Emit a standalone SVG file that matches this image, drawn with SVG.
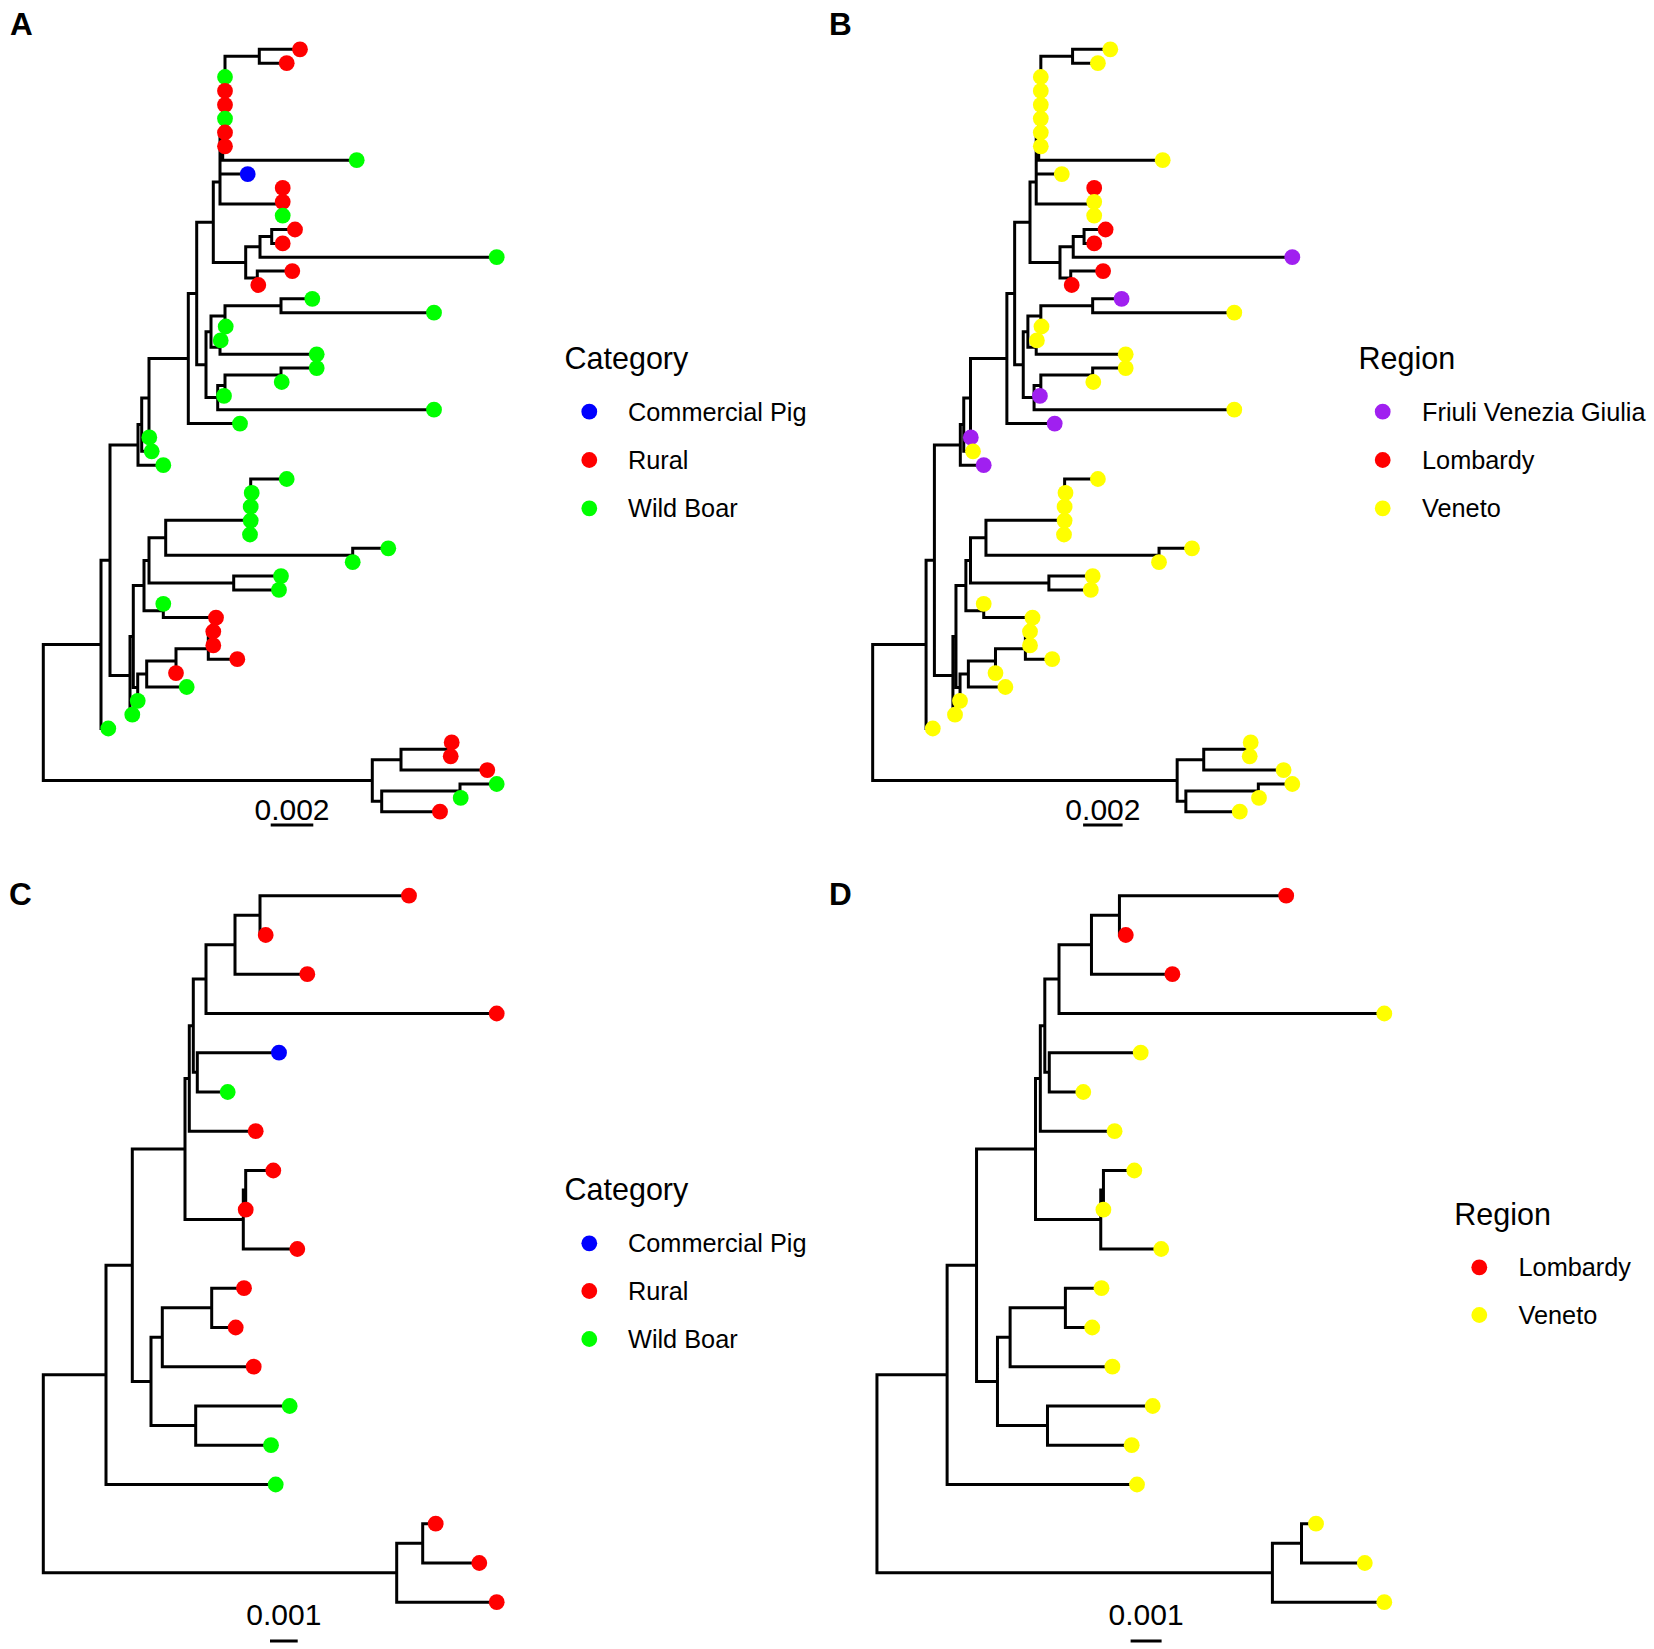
<svg xmlns="http://www.w3.org/2000/svg" xmlns:xlink="http://www.w3.org/1999/xlink" width="1654" height="1649" viewBox="0 0 1654 1649">
<style>
.e{fill:none;stroke:#000;stroke-width:3;stroke-linecap:square;vector-effect:non-scaling-stroke}
.bar{fill:none;stroke:#000;stroke-width:3}
.r{fill:#FF0000}.g{fill:#00FF00}.b{fill:#0000FF}.y{fill:#FFFF00}.p{fill:#A020F0}
text{font-family:"Liberation Sans",Arial,Helvetica,sans-serif;fill:#000}
.pl{font-size:31.5px;font-weight:bold}
.lt{font-size:30.5px}
.ll{font-size:25.3px}
.sc{font-size:30px;text-anchor:middle}
</style>
<defs>
<path id="edgesA" class="e" d="M259.3,49.3V63.2M259.3,49.3H300M259.3,63.2H286.7
M225,56.2V146.3M225,56.2H259.3
M222.7,103.8V160.2M222.7,103.8H225M222.7,160.2H356.7
M220,132V204M220,132H222.7M220,174.1H247.7M220,204H282.7
M282.7,187.9V215.6
M213.3,182V262.4M213.3,182H220M213.3,262.4H245.7
M245.7,246.8V278M245.7,246.8H260M245.7,278H257.3
M260,236.4V257.2M260,236.4H271.7M260,257.2H496.7
M271.7,229.5V243.4M271.7,229.5H295M271.7,243.4H282.7
M257.3,271.1V285M257.3,271.1H292.3M257.3,285H258.3
M196.7,222.2V364.7M196.7,222.2H213.3M196.7,364.7H206
M206,331.7V397.6M206,331.7H211M206,397.6H217.7
M211,316.1V347.3M211,316.1H225M211,347.3H220
M225,305.7V326.5M225,305.7H281M225,326.5H225.7
M281,298.8V312.7M281,298.8H312.3M281,312.7H434
M220,340.4V354.3M220,340.4H220.7M220,354.3H316.7
M217.7,385.5V409.7M217.7,385.5H225M217.7,409.7H434
M225,375V395.9M225,375H281
M281,368.1V382M281,368.1H316.7M281,382H281.7
M188.3,293.5V423.6M188.3,293.5H196.7M188.3,423.6H240
M149,358.5V437.4M149,358.5H188.3M149,437.4H149.3
M141.7,398V451.3M141.7,398H149M141.7,451.3H151.7
M138,424.6V465.2M138,424.6H141.7M138,465.2H163.3
M110,444.9V675.6M110,444.9H138M110,675.6H130
M250.7,479V534.5M250.7,479H286.7
M352.7,548.3V562.2M352.7,548.3H388.3
M165.7,520.3V555.3M165.7,520.3H250.7M165.7,555.3H352.7
M233.7,576.1V589.9M233.7,576.1H281M233.7,589.9H279
M149,537.8V583M149,537.8H165.7M149,583H233.7
M163.3,603.8V617.6M163.3,617.6H216
M144,560.4V610.7M144,560.4H149M144,610.7H163.3
M208.3,631.5V659.2M208.3,631.5H213.3M208.3,645.4H213.3M208.3,659.2H237.3
M176,648.7V673.1M176,648.7H208.3
M146.7,661V687M146.7,661H176M146.7,687H186.7
M137.7,674V700.8M137.7,674H146.7
M133.3,585.6V687.4M133.3,585.6H144M133.3,687.4H137.7
M130,636.5V714.7M130,636.5H133.3M130,714.7H132.3
M101,560.3V728.5M101,560.3H110M101,728.5H108.3
M448,742.4V756.3M448,742.4H451.7M448,756.3H450.7
M401,749.3V770.1M401,749.3H448M401,770.1H487.3
M460,784V797.9M460,784H496.7M460,797.9H460.7
M381.7,791V811.7M381.7,791H460M381.7,811.7H440
M372.3,759.7V801.3M372.3,759.7H401M372.3,801.3H381.7
M43.3,644.4V780.5M43.3,644.4H101M43.3,780.5H372.3"/>
<path id="edgesC" class="e" d="M260,895.7V935M260,895.7H409M260,935H265.7
M235,915.3V974.2M235,915.3H260M235,974.2H307.3
M206,944.8V1013.5M206,944.8H235M206,1013.5H496.7
M197.3,1052.7V1092M197.3,1052.7H279M197.3,1092H227.7
M193.3,979.1V1072.3M193.3,979.1H206M193.3,1072.3H197.3
M189.3,1025.7V1131.2M189.3,1025.7H193.3M189.3,1131.2H255.7
M245.7,1170.5V1209.7M245.7,1170.5H273.3
M243.3,1190.1V1249M243.3,1190.1H245.7M243.3,1249H297.3
M185,1078.5V1219.5M185,1078.5H189.3M185,1219.5H243.3
M211.7,1288.2V1327.5M211.7,1288.2H244M211.7,1327.5H235.7
M162.3,1307.8V1366.7M162.3,1307.8H211.7M162.3,1366.7H253.7
M195.7,1406V1445.2M195.7,1406H289.7M195.7,1445.2H271
M151,1337.3V1425.6M151,1337.3H162.3M151,1425.6H195.7
M132.3,1149V1381.4M132.3,1149H185M132.3,1381.4H151
M106,1265.2V1484.5M106,1265.2H132.3M106,1484.5H275.7
M422.7,1523.7V1563M422.7,1523.7H435.7M422.7,1563H479.3
M396.7,1543.3V1602.2M396.7,1543.3H422.7M396.7,1602.2H496.7
M43.3,1374.8V1572.8M43.3,1374.8H106M43.3,1572.8H396.7"/>
</defs>
<rect width="1654" height="1649" fill="#fff"/>
<g id="connectors">
<use id="edges-A" href="#edgesA" xlink:href="#edgesA"/>
<use id="edges-B" href="#edgesA" xlink:href="#edgesA" transform="translate(832.6 0) scale(0.9255 1)"/>
<use id="edges-C" href="#edgesC" xlink:href="#edgesC"/>
<use id="edges-D" href="#edgesC" xlink:href="#edgesC" transform="translate(828.5 0) scale(1.119 1)"/>
<path id="scale-A" class="bar" d="M270.7,825H313.3"/>
<path id="scale-B" class="bar" d="M1083.1,825H1122.6"/>
<path id="scale-C" class="bar" d="M270,1641H297.7"/>
<path id="scale-D" class="bar" d="M1130.6,1641H1161.6"/>
</g>
<g id="panel-labels">
<text class="pl" x="10" y="35">A</text>
<text class="pl" x="829" y="35">B</text>
<text class="pl" x="9" y="905">C</text>
<text class="pl" x="829" y="905">D</text>
</g>
<g id="scale-texts">
<text class="sc" x="292" y="819.5">0.002</text>
<text class="sc" x="1102.9" y="819.5">0.002</text>
<text class="sc" x="283.8" y="1625">0.001</text>
<text class="sc" x="1146.1" y="1625">0.001</text>
</g>
<g id="tips-A">
<g id="A-t00"><circle class="r" cx="300" cy="49.3" r="7.9"/></g>
<g id="A-t01"><circle class="r" cx="286.7" cy="63.2" r="7.9"/></g>
<g id="A-t02"><circle class="g" cx="225" cy="77" r="7.9"/></g>
<g id="A-t03"><circle class="r" cx="225" cy="90.9" r="7.9"/></g>
<g id="A-t04"><circle class="r" cx="225" cy="104.8" r="7.9"/></g>
<g id="A-t05"><circle class="g" cx="225" cy="118.6" r="7.9"/></g>
<g id="A-t06"><circle class="r" cx="225" cy="132.5" r="7.9"/></g>
<g id="A-t07"><circle class="r" cx="225" cy="146.3" r="7.9"/></g>
<g id="A-t08"><circle class="g" cx="356.7" cy="160.2" r="7.9"/></g>
<g id="A-t09"><circle class="b" cx="247.7" cy="174.1" r="7.9"/></g>
<g id="A-t10"><circle class="r" cx="282.7" cy="187.9" r="7.9"/></g>
<g id="A-t11"><circle class="r" cx="282.7" cy="201.8" r="7.9"/></g>
<g id="A-t12"><circle class="g" cx="282.7" cy="215.6" r="7.9"/></g>
<g id="A-t13"><circle class="r" cx="295" cy="229.5" r="7.9"/></g>
<g id="A-t14"><circle class="r" cx="282.7" cy="243.4" r="7.9"/></g>
<g id="A-t15"><circle class="g" cx="496.7" cy="257.2" r="7.9"/></g>
<g id="A-t16"><circle class="r" cx="292.3" cy="271.1" r="7.9"/></g>
<g id="A-t17"><circle class="r" cx="258.3" cy="285" r="7.9"/></g>
<g id="A-t18"><circle class="g" cx="312.3" cy="298.8" r="7.9"/></g>
<g id="A-t19"><circle class="g" cx="434" cy="312.7" r="7.9"/></g>
<g id="A-t20"><circle class="g" cx="225.7" cy="326.5" r="7.9"/></g>
<g id="A-t21"><circle class="g" cx="220.7" cy="340.4" r="7.9"/></g>
<g id="A-t22"><circle class="g" cx="316.7" cy="354.3" r="7.9"/></g>
<g id="A-t23"><circle class="g" cx="316.7" cy="368.1" r="7.9"/></g>
<g id="A-t24"><circle class="g" cx="281.7" cy="382" r="7.9"/></g>
<g id="A-t25"><circle class="g" cx="224" cy="395.9" r="7.9"/></g>
<g id="A-t26"><circle class="g" cx="434" cy="409.7" r="7.9"/></g>
<g id="A-t27"><circle class="g" cx="240" cy="423.6" r="7.9"/></g>
<g id="A-t28"><circle class="g" cx="149.3" cy="437.4" r="7.9"/></g>
<g id="A-t29"><circle class="g" cx="151.7" cy="451.3" r="7.9"/></g>
<g id="A-t30"><circle class="g" cx="163.3" cy="465.2" r="7.9"/></g>
<g id="A-t31"><circle class="g" cx="286.7" cy="479" r="7.9"/></g>
<g id="A-t32"><circle class="g" cx="251.7" cy="492.9" r="7.9"/></g>
<g id="A-t33"><circle class="g" cx="250.7" cy="506.7" r="7.9"/></g>
<g id="A-t34"><circle class="g" cx="250.7" cy="520.6" r="7.9"/></g>
<g id="A-t35"><circle class="g" cx="250" cy="534.5" r="7.9"/></g>
<g id="A-t36"><circle class="g" cx="388.3" cy="548.3" r="7.9"/></g>
<g id="A-t37"><circle class="g" cx="352.7" cy="562.2" r="7.9"/></g>
<g id="A-t38"><circle class="g" cx="281" cy="576.1" r="7.9"/></g>
<g id="A-t39"><circle class="g" cx="279" cy="589.9" r="7.9"/></g>
<g id="A-t40"><circle class="g" cx="163.3" cy="603.8" r="7.9"/></g>
<g id="A-t41"><circle class="r" cx="216" cy="617.6" r="7.9"/></g>
<g id="A-t42"><circle class="r" cx="213.3" cy="631.5" r="7.9"/></g>
<g id="A-t43"><circle class="r" cx="213.3" cy="645.4" r="7.9"/></g>
<g id="A-t44"><circle class="r" cx="237.3" cy="659.2" r="7.9"/></g>
<g id="A-t45"><circle class="r" cx="176" cy="673.1" r="7.9"/></g>
<g id="A-t46"><circle class="g" cx="186.7" cy="687" r="7.9"/></g>
<g id="A-t47"><circle class="g" cx="137.7" cy="700.8" r="7.9"/></g>
<g id="A-t48"><circle class="g" cx="132.3" cy="714.7" r="7.9"/></g>
<g id="A-t49"><circle class="g" cx="108.3" cy="728.5" r="7.9"/></g>
<g id="A-t50"><circle class="r" cx="451.7" cy="742.4" r="7.9"/></g>
<g id="A-t51"><circle class="r" cx="450.7" cy="756.3" r="7.9"/></g>
<g id="A-t52"><circle class="r" cx="487.3" cy="770.1" r="7.9"/></g>
<g id="A-t53"><circle class="g" cx="496.7" cy="784" r="7.9"/></g>
<g id="A-t54"><circle class="g" cx="460.7" cy="797.9" r="7.9"/></g>
<g id="A-t55"><circle class="r" cx="440" cy="811.7" r="7.9"/></g>
</g>
<g id="tips-B">
<g id="B-t00"><circle class="y" cx="1110.3" cy="49.3" r="7.9"/></g>
<g id="B-t01"><circle class="y" cx="1097.9" cy="63.2" r="7.9"/></g>
<g id="B-t02"><circle class="y" cx="1040.8" cy="77" r="7.9"/></g>
<g id="B-t03"><circle class="y" cx="1040.8" cy="90.9" r="7.9"/></g>
<g id="B-t04"><circle class="y" cx="1040.8" cy="104.8" r="7.9"/></g>
<g id="B-t05"><circle class="y" cx="1040.8" cy="118.6" r="7.9"/></g>
<g id="B-t06"><circle class="y" cx="1040.8" cy="132.5" r="7.9"/></g>
<g id="B-t07"><circle class="y" cx="1040.8" cy="146.3" r="7.9"/></g>
<g id="B-t08"><circle class="y" cx="1162.7" cy="160.2" r="7.9"/></g>
<g id="B-t09"><circle class="y" cx="1061.8" cy="174.1" r="7.9"/></g>
<g id="B-t10"><circle class="r" cx="1094.2" cy="187.9" r="7.9"/></g>
<g id="B-t11"><circle class="y" cx="1094.2" cy="201.8" r="7.9"/></g>
<g id="B-t12"><circle class="y" cx="1094.2" cy="215.6" r="7.9"/></g>
<g id="B-t13"><circle class="r" cx="1105.6" cy="229.5" r="7.9"/></g>
<g id="B-t14"><circle class="r" cx="1094.2" cy="243.4" r="7.9"/></g>
<g id="B-t15"><circle class="p" cx="1292.3" cy="257.2" r="7.9"/></g>
<g id="B-t16"><circle class="r" cx="1103.1" cy="271.1" r="7.9"/></g>
<g id="B-t17"><circle class="r" cx="1071.7" cy="285" r="7.9"/></g>
<g id="B-t18"><circle class="p" cx="1121.6" cy="298.8" r="7.9"/></g>
<g id="B-t19"><circle class="y" cx="1234.3" cy="312.7" r="7.9"/></g>
<g id="B-t20"><circle class="y" cx="1041.5" cy="326.5" r="7.9"/></g>
<g id="B-t21"><circle class="y" cx="1036.9" cy="340.4" r="7.9"/></g>
<g id="B-t22"><circle class="y" cx="1125.7" cy="354.3" r="7.9"/></g>
<g id="B-t23"><circle class="y" cx="1125.7" cy="368.1" r="7.9"/></g>
<g id="B-t24"><circle class="y" cx="1093.3" cy="382" r="7.9"/></g>
<g id="B-t25"><circle class="p" cx="1039.9" cy="395.9" r="7.9"/></g>
<g id="B-t26"><circle class="y" cx="1234.3" cy="409.7" r="7.9"/></g>
<g id="B-t27"><circle class="p" cx="1054.7" cy="423.6" r="7.9"/></g>
<g id="B-t28"><circle class="p" cx="970.8" cy="437.4" r="7.9"/></g>
<g id="B-t29"><circle class="y" cx="973" cy="451.3" r="7.9"/></g>
<g id="B-t30"><circle class="p" cx="983.7" cy="465.2" r="7.9"/></g>
<g id="B-t31"><circle class="y" cx="1097.9" cy="479" r="7.9"/></g>
<g id="B-t32"><circle class="y" cx="1065.5" cy="492.9" r="7.9"/></g>
<g id="B-t33"><circle class="y" cx="1064.6" cy="506.7" r="7.9"/></g>
<g id="B-t34"><circle class="y" cx="1064.6" cy="520.6" r="7.9"/></g>
<g id="B-t35"><circle class="y" cx="1064" cy="534.5" r="7.9"/></g>
<g id="B-t36"><circle class="y" cx="1192" cy="548.3" r="7.9"/></g>
<g id="B-t37"><circle class="y" cx="1159" cy="562.2" r="7.9"/></g>
<g id="B-t38"><circle class="y" cx="1092.7" cy="576.1" r="7.9"/></g>
<g id="B-t39"><circle class="y" cx="1090.8" cy="589.9" r="7.9"/></g>
<g id="B-t40"><circle class="y" cx="983.7" cy="603.8" r="7.9"/></g>
<g id="B-t41"><circle class="y" cx="1032.5" cy="617.6" r="7.9"/></g>
<g id="B-t42"><circle class="y" cx="1030" cy="631.5" r="7.9"/></g>
<g id="B-t43"><circle class="y" cx="1030" cy="645.4" r="7.9"/></g>
<g id="B-t44"><circle class="y" cx="1052.2" cy="659.2" r="7.9"/></g>
<g id="B-t45"><circle class="y" cx="995.5" cy="673.1" r="7.9"/></g>
<g id="B-t46"><circle class="y" cx="1005.4" cy="687" r="7.9"/></g>
<g id="B-t47"><circle class="y" cx="960" cy="700.8" r="7.9"/></g>
<g id="B-t48"><circle class="y" cx="955" cy="714.7" r="7.9"/></g>
<g id="B-t49"><circle class="y" cx="932.8" cy="728.5" r="7.9"/></g>
<g id="B-t50"><circle class="y" cx="1250.7" cy="742.4" r="7.9"/></g>
<g id="B-t51"><circle class="y" cx="1249.7" cy="756.3" r="7.9"/></g>
<g id="B-t52"><circle class="y" cx="1283.6" cy="770.1" r="7.9"/></g>
<g id="B-t53"><circle class="y" cx="1292.3" cy="784" r="7.9"/></g>
<g id="B-t54"><circle class="y" cx="1259" cy="797.9" r="7.9"/></g>
<g id="B-t55"><circle class="y" cx="1239.8" cy="811.7" r="7.9"/></g>
</g>
<g id="tips-C">
<g id="C-t00"><circle class="r" cx="409" cy="895.7" r="7.9"/></g>
<g id="C-t01"><circle class="r" cx="265.7" cy="935" r="7.9"/></g>
<g id="C-t02"><circle class="r" cx="307.3" cy="974.2" r="7.9"/></g>
<g id="C-t03"><circle class="r" cx="496.7" cy="1013.5" r="7.9"/></g>
<g id="C-t04"><circle class="b" cx="279" cy="1052.7" r="7.9"/></g>
<g id="C-t05"><circle class="g" cx="227.7" cy="1092" r="7.9"/></g>
<g id="C-t06"><circle class="r" cx="255.7" cy="1131.2" r="7.9"/></g>
<g id="C-t07"><circle class="r" cx="273.3" cy="1170.5" r="7.9"/></g>
<g id="C-t08"><circle class="r" cx="245.7" cy="1209.7" r="7.9"/></g>
<g id="C-t09"><circle class="r" cx="297.3" cy="1249" r="7.9"/></g>
<g id="C-t10"><circle class="r" cx="244" cy="1288.2" r="7.9"/></g>
<g id="C-t11"><circle class="r" cx="235.7" cy="1327.5" r="7.9"/></g>
<g id="C-t12"><circle class="r" cx="253.7" cy="1366.7" r="7.9"/></g>
<g id="C-t13"><circle class="g" cx="289.7" cy="1406" r="7.9"/></g>
<g id="C-t14"><circle class="g" cx="271" cy="1445.2" r="7.9"/></g>
<g id="C-t15"><circle class="g" cx="275.7" cy="1484.5" r="7.9"/></g>
<g id="C-t16"><circle class="r" cx="435.7" cy="1523.7" r="7.9"/></g>
<g id="C-t17"><circle class="r" cx="479.3" cy="1563" r="7.9"/></g>
<g id="C-t18"><circle class="r" cx="496.7" cy="1602.2" r="7.9"/></g>
</g>
<g id="tips-D">
<g id="D-t00"><circle class="r" cx="1286.2" cy="895.7" r="7.9"/></g>
<g id="D-t01"><circle class="r" cx="1125.8" cy="935" r="7.9"/></g>
<g id="D-t02"><circle class="r" cx="1172.4" cy="974.2" r="7.9"/></g>
<g id="D-t03"><circle class="y" cx="1384.3" cy="1013.5" r="7.9"/></g>
<g id="D-t04"><circle class="y" cx="1140.7" cy="1052.7" r="7.9"/></g>
<g id="D-t05"><circle class="y" cx="1083.3" cy="1092" r="7.9"/></g>
<g id="D-t06"><circle class="y" cx="1114.6" cy="1131.2" r="7.9"/></g>
<g id="D-t07"><circle class="y" cx="1134.3" cy="1170.5" r="7.9"/></g>
<g id="D-t08"><circle class="y" cx="1103.4" cy="1209.7" r="7.9"/></g>
<g id="D-t09"><circle class="y" cx="1161.2" cy="1249" r="7.9"/></g>
<g id="D-t10"><circle class="y" cx="1101.5" cy="1288.2" r="7.9"/></g>
<g id="D-t11"><circle class="y" cx="1092.2" cy="1327.5" r="7.9"/></g>
<g id="D-t12"><circle class="y" cx="1112.4" cy="1366.7" r="7.9"/></g>
<g id="D-t13"><circle class="y" cx="1152.7" cy="1406" r="7.9"/></g>
<g id="D-t14"><circle class="y" cx="1131.7" cy="1445.2" r="7.9"/></g>
<g id="D-t15"><circle class="y" cx="1137" cy="1484.5" r="7.9"/></g>
<g id="D-t16"><circle class="y" cx="1316" cy="1523.7" r="7.9"/></g>
<g id="D-t17"><circle class="y" cx="1364.8" cy="1563" r="7.9"/></g>
<g id="D-t18"><circle class="y" cx="1384.3" cy="1602.2" r="7.9"/></g>
</g>
<g id="legend-A">
<text class="lt" x="564.5" y="369">Category</text>
<circle class="b" cx="589.3" cy="411.7" r="7.9"/>
<text class="ll" x="628" y="420.7">Commercial Pig</text>
<circle class="r" cx="589.3" cy="460" r="7.9"/>
<text class="ll" x="628" y="469">Rural</text>
<circle class="g" cx="589.3" cy="508.3" r="7.9"/>
<text class="ll" x="628" y="517.3">Wild Boar</text>
</g>
<g id="legend-B">
<text class="lt" x="1358.5" y="369">Region</text>
<circle class="p" cx="1382.7" cy="411.7" r="7.9"/>
<text class="ll" x="1422" y="420.7">Friuli Venezia Giulia</text>
<circle class="r" cx="1382.7" cy="460" r="7.9"/>
<text class="ll" x="1422" y="469">Lombardy</text>
<circle class="y" cx="1382.7" cy="508.3" r="7.9"/>
<text class="ll" x="1422" y="517.3">Veneto</text>
</g>
<g id="legend-C">
<text class="lt" x="564.5" y="1200">Category</text>
<circle class="b" cx="589.3" cy="1243.3" r="7.9"/>
<text class="ll" x="628" y="1252.3">Commercial Pig</text>
<circle class="r" cx="589.3" cy="1291" r="7.9"/>
<text class="ll" x="628" y="1300">Rural</text>
<circle class="g" cx="589.3" cy="1339" r="7.9"/>
<text class="ll" x="628" y="1348">Wild Boar</text>
</g>
<g id="legend-D">
<text class="lt" x="1454.3" y="1225">Region</text>
<circle class="r" cx="1479.3" cy="1267.3" r="7.9"/>
<text class="ll" x="1518.5" y="1276.3">Lombardy</text>
<circle class="y" cx="1479.3" cy="1315" r="7.9"/>
<text class="ll" x="1518.5" y="1324">Veneto</text>
</g>
</svg>
